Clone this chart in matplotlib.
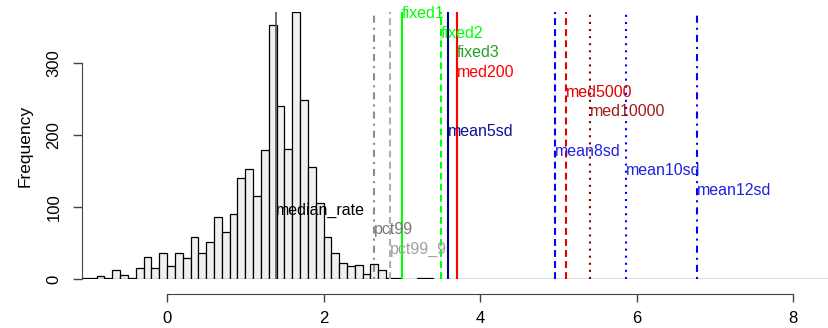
import numpy as np
import matplotlib
matplotlib.use('Agg')
import matplotlib.pyplot as plt

plt.rcParams['font.family'] = ['Liberation Sans', 'DejaVu Sans']

# histogram of rates, bins of width 0.1 starting at -1.1
bin_start = -1.1
bin_width = 0.1
counts = [1, 2, 4, 2, 12, 6, 2, 16, 31, 16, 37, 18, 37, 29, 59, 36, 52, 86, 65, 90,
          141, 153, 116, 179, 353, 240, 181, 371, 249, 156, 106, 59, 36, 23, 18, 19, 7, 21, 13, 2,
          1, 0, 0, 1, 1,
          0, 0, 0, 0, 0, 0, 0, 0, 0, 0, 0, 0, 0, 0, 0, 0, 0, 0, 0, 0, 0, 0, 0, 0, 0, 0, 0, 0, 0, 0,
          0, 0, 0, 0, 0, 0, 0, 0, 0, 0, 0, 0, 0, 0, 0, 0, 0, 0, 0, 0, 0]

# thresholds (drawing order)
thr_names = ['median_rate', 'pct99', 'pct99_9', 'fixed1', 'fixed2', 'fixed3', 'med200',
             'med5000', 'med10000', 'mean5sd', 'mean8sd', 'mean10sd', 'mean12sd']
thr_values = [1.39, 2.645, 2.846, 3.0, 3.5, 3.7, 3.7, 5.1, 5.4, 3.59, 4.955, 5.86, 6.77]
# label order from top to bottom
label_order = ['fixed1', 'fixed2', 'fixed3', 'med200', 'med5000', 'med10000', 'mean5sd',
               'mean8sd', 'mean10sd', 'mean12sd', 'median_rate', 'pct99', 'pct99_9']

line_col = {'median_rate': '#555555', 'pct99': '#8c8c8c', 'pct99_9': '#b0b0b0',
            'fixed1': '#00ff00', 'fixed2': '#00ff00', 'fixed3': '#22a022', 'med200': '#ff0000',
            'med5000': '#e00000', 'med10000': '#8b0000', 'mean5sd': '#000080',
            'mean8sd': '#0000ff', 'mean10sd': '#0000ff', 'mean12sd': '#0000ff'}
text_col = dict(line_col)
text_col.update({'median_rate': 'black', 'pct99': '#777777', 'pct99_9': '#a0a0a0',
                 'med10000': '#a01c1c', 'mean5sd': '#10109a', 'mean8sd': '#2020e0',
                 'mean10sd': '#2020e0', 'mean12sd': '#2020e0'})
dash = (3.3, 2.0)
dot = (1, 2.4)
dashdot = (1, 2.4, 3.4, 2.4)
line_dash = {'median_rate': None, 'pct99': dashdot, 'pct99_9': dash, 'fixed1': None,
             'fixed2': dash, 'fixed3': None, 'med200': None, 'med5000': dash,
             'med10000': dot, 'mean5sd': None, 'mean8sd': dash, 'mean10sd': dot,
             'mean12sd': dashdot}

fig = plt.figure(figsize=(8.29, 3.28), dpi=100)
ax = fig.add_axes([0.0986, 0.149, 0.9014, 0.814])

lefts = bin_start + bin_width * np.arange(len(counts))
ax.bar(lefts, counts, width=bin_width, align='edge', color='#f0f0f0',
       edgecolor='black', linewidth=0.9, zorder=2)

for name, v in zip(thr_names, thr_values):
    kw = dict(color=line_col[name], linewidth=1.5, zorder=3)
    if name == 'median_rate':
        kw['linewidth'] = 1.2
    ln = ax.axvline(v, **kw)
    if line_dash[name] is not None:
        ln.set_dashes(line_dash[name])

label_y = np.linspace(369, 41, len(label_order))
for name, y in zip(label_order, label_y):
    v = thr_values[thr_names.index(name)]
    ax.text(v, y, name, color=text_col[name], fontsize=11.5, ha='left', va='center', zorder=4)

ax.set_xlim(-1.09, 8.46)
ax.set_ylim(0, 371)

for s in ['top', 'right']:
    ax.spines[s].set_visible(False)
ax.spines['bottom'].set_position(('outward', 11))
ax.spines['bottom'].set_bounds(0, 8)
ax.spines['left'].set_bounds(0, 300)
ax.spines['bottom'].set_color('#444444')
ax.spines['left'].set_color('#444444')

ax.set_xticks([0, 2, 4, 6, 8])
ax.set_yticks([0, 100, 200, 300])
ax.tick_params(axis='x', length=6, width=1, color='#444444', labelsize=12, pad=6)
ax.tick_params(axis='y', length=6.5, width=1, color='#444444', labelsize=12, pad=8)
for lab in ax.get_yticklabels():
    lab.set_rotation(90)
    lab.set_va('center')
ax.set_ylabel('Frequency', fontsize=12.5, labelpad=10)

fig.savefig('out.png', dpi=100)
